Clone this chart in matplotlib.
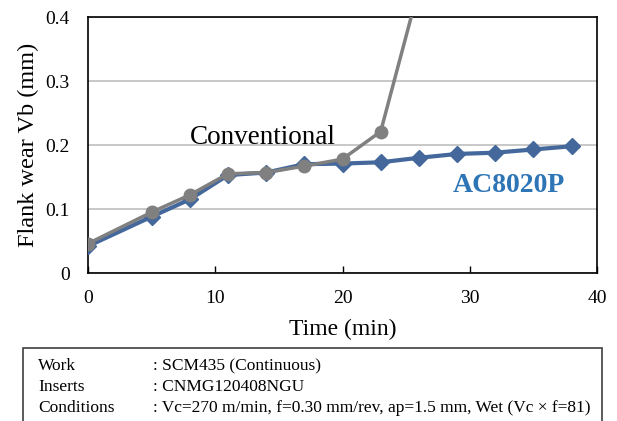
import matplotlib
matplotlib.use("Agg")
import matplotlib.pyplot as plt
from matplotlib.patches import Rectangle

plt.rcParams['font.family'] = ['Liberation Serif', 'DejaVu Serif']

# DATA
time_ac = [0, 5, 8, 11, 14, 17, 20, 23, 26, 29, 32, 35, 38]
wear_ac = [0.042, 0.088, 0.115, 0.153, 0.157, 0.170, 0.171, 0.173, 0.180, 0.186, 0.188, 0.193, 0.198]
time_conv = [0, 5, 8, 11, 14, 17, 20, 23, 26]
wear_conv = [0.046, 0.095, 0.122, 0.155, 0.157, 0.167, 0.178, 0.221, 0.445]

x_ticks = [0, 10, 20, 30, 40]
y_ticks = [0, 0.1, 0.2, 0.3, 0.4]
y_labels = ['0', '0.1', '0.2', '0.3', '0.4']

cond_keys = ['Work', 'Inserts', 'Conditions']
cond_vals = [': SCM435 (Continuous)',
             ': CNMG120408NGU',
             ': Vc=270 m/min, f=0.30 mm/rev, ap=1.5 mm, Wet (Vc \u00d7 f=81)']

# FIGURE
fig = plt.figure(figsize=(6.17, 4.21), dpi=100)
ax = fig.add_axes([88 / 617, 1 - 273 / 421, (597 - 88) / 617, (273 - 17) / 421])

ax.plot(time_ac, wear_ac, color='#44689c', lw=3, marker='D', ms=8, zorder=3)
ax.plot(time_conv, wear_conv, color='#808080', lw=2.5, marker='o', ms=9, zorder=4)

ax.set_xlim(0, 40)
ax.set_ylim(0, 0.4)
ax.set_xticks(x_ticks)
ax.set_yticks(y_ticks)
ax.set_yticklabels(y_labels)
ax.yaxis.grid(True, color='#bfbfbf', lw=1.2)
ax.set_axisbelow(True)
ax.tick_params(axis='y', labelsize=14, length=0, pad=13)
ax.tick_params(axis='x', labelsize=14, direction='in', length=5, width=1, pad=12)
for s in ax.spines.values():
    s.set_linewidth(1.2)

ax.set_xlabel('Time (min)', fontsize=17, labelpad=9)
ax.set_ylabel('Flank wear Vb (mm)', fontsize=17.5, labelpad=5)

ax.text(8.0, 0.212, 'Conventional', fontsize=19.5, ha='left', va='center')
ax.text(37.5, 0.1375, 'AC8020P', fontsize=20, fontweight='bold', color='#2e75b6',
        ha='right', va='center')

# CONDITIONS BOX
fig.patches.append(Rectangle((23 / 617, -0.05), (602 - 23) / 617, 1 - 348 / 421 + 0.05,
                             transform=fig.transFigure, fill=False, lw=1.2,
                             edgecolor='#404040'))
rows_y = [366, 387, 408]
for k, v, yy in zip(cond_keys, cond_vals, rows_y):
    fig.text(38 / 617, 1 - yy / 421, k, fontsize=12.5, va='center')
    fig.text(153 / 617, 1 - yy / 421, v, fontsize=12.5, va='center')

fig.savefig('out.png', dpi=100)
